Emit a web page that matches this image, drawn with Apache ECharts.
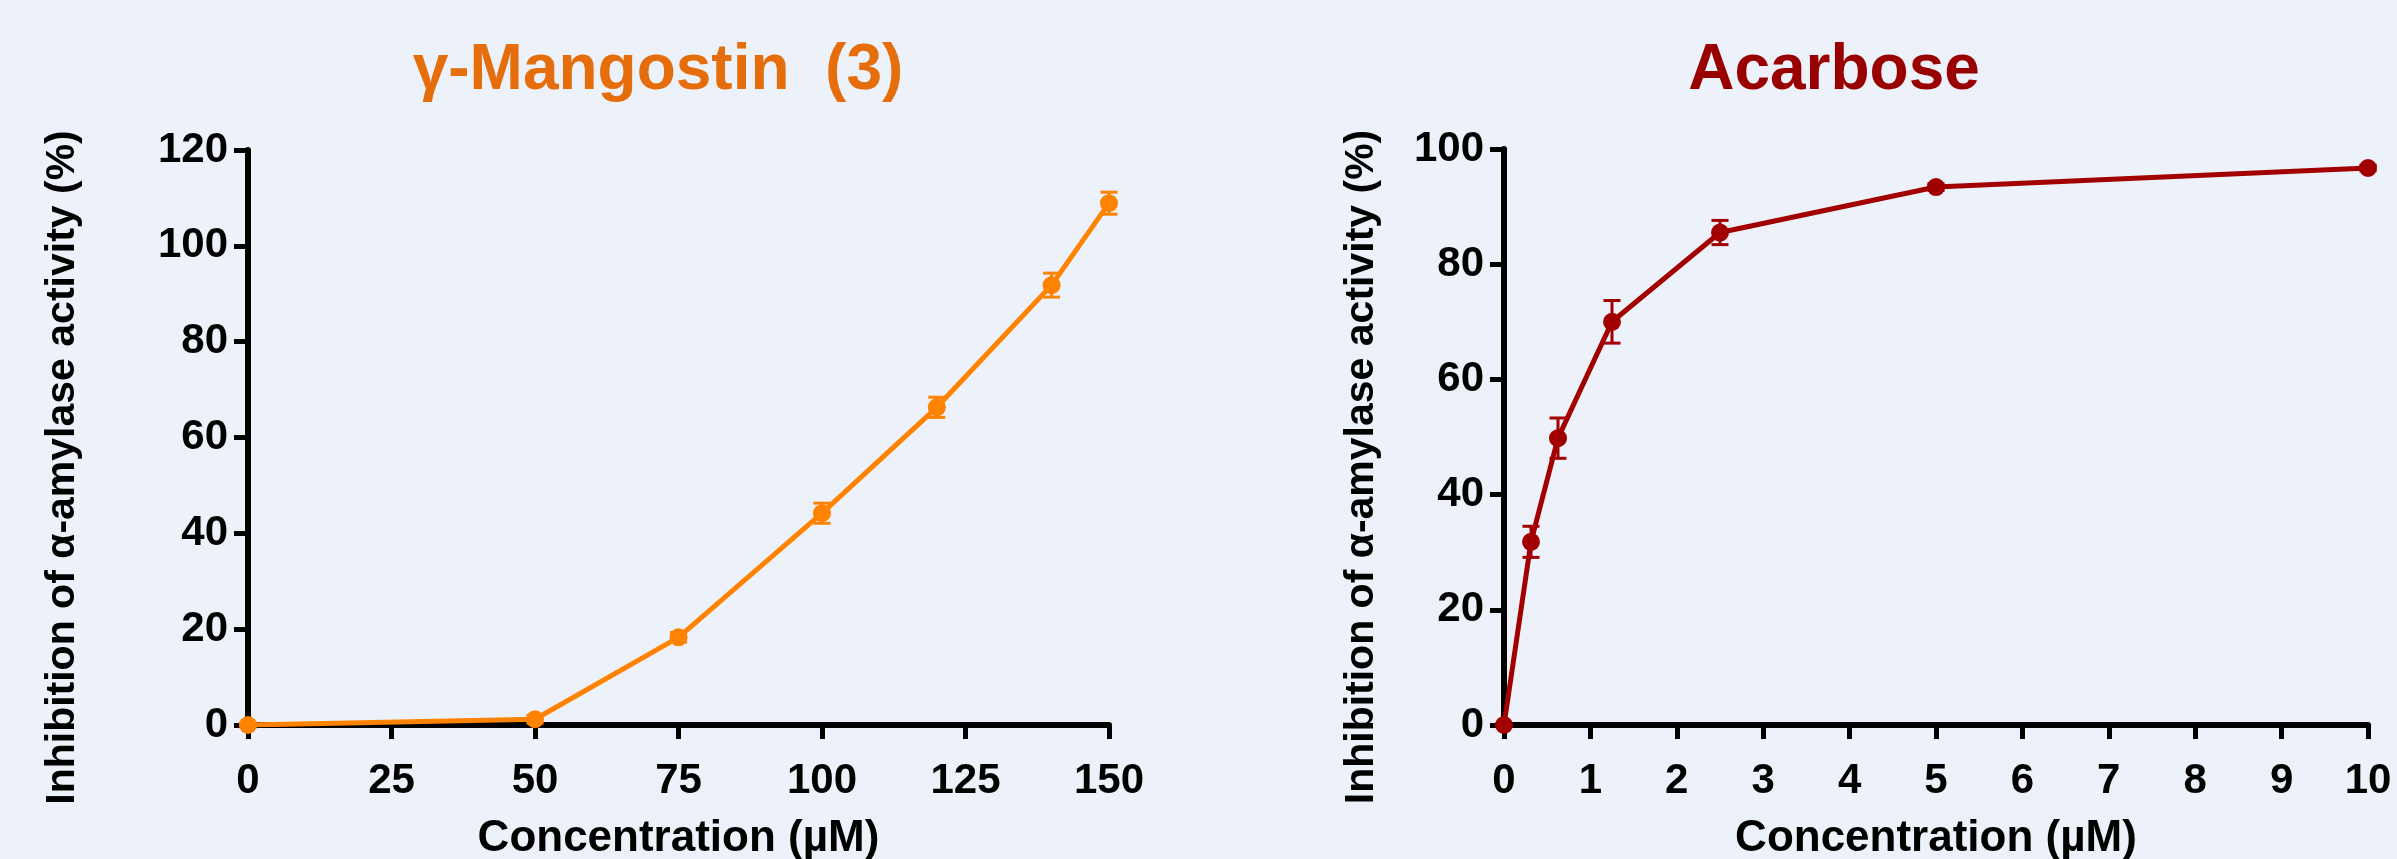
<!DOCTYPE html>
<html>
<head>
<meta charset="utf-8">
<script src="https://cdn.jsdelivr.net/npm/echarts@6/dist/echarts.min.js"></script>
<style>
  html, body { margin: 0; padding: 0; background: #EDF2FA; }
  #main { width: 2397px; height: 859px; }
</style>
</head>
<body>
<div id="main"></div>
<script>
// gamma-mangostin (3)
var mangConc = [0, 50, 75, 100, 120, 140, 150];
var mangInhib = [0, 1.2, 18.3, 44.2, 66.3, 91.8, 108.9];
var mangErr = [0.5, 0.8, 1.0, 2.1, 2.1, 2.5, 2.3];
var mangTicksX = { min: 0, max: 150, interval: 25 };
var mangTicksY = { min: 0, max: 120, interval: 20 };

// acarbose
var acarConc = [0, 0.3125, 0.625, 1.25, 2.5, 5, 10];
var acarInhib = [0, 31.8, 49.8, 70.0, 85.5, 93.4, 96.7];
var acarErr = [0, 2.7, 3.5, 3.7, 2.1, 0.6, 0.5];
var acarTicksX = { min: 0, max: 10, interval: 1 };
var acarTicksY = { min: 0, max: 100, interval: 20 };

var FONT = '"Liberation Sans", Arial, sans-serif';
var ORANGE = '#FF8200';
var DARKRED = '#A20000';

function pairs(xs, ys) {
    return xs.map(function(x, i) { return [x, ys[i]]; });
}
function triples(xs, ys, es) {
    return xs.map(function(x, i) { return [x, ys[i], es[i]]; });
}

// vertical error bar with caps, one per point
function errorBars(color) {
    return function(params, api) {
        var x = api.value(0), y = api.value(1), e = api.value(2);
        if (!e) return null;
        var hi = api.coord([x, y + e]);
        var lo = api.coord([x, y - e]);
        var w = 8.5;
        var st = { stroke: color, lineWidth: 3 };
        return {
            type: 'group',
            children: [
                { type: 'line', shape: { x1: hi[0], y1: hi[1], x2: lo[0], y2: lo[1] }, style: st },
                { type: 'line', shape: { x1: hi[0] - w, y1: hi[1], x2: hi[0] + w, y2: hi[1] }, style: st },
                { type: 'line', shape: { x1: lo[0] - w, y1: lo[1], x2: lo[0] + w, y2: lo[1] }, style: st }
            ]
        };
    };
}

function xAxisFor(idx, ticks) {
    return {
        type: 'value', gridIndex: idx,
        min: ticks.min, max: ticks.max, interval: ticks.interval,
        name: 'Concentration (µM)', nameLocation: 'middle', nameGap: 92,
        nameTextStyle: { color: '#000', fontFamily: FONT, fontWeight: 'bold', fontSize: 44 },
        axisLine: { show: true, onZero: false, lineStyle: { color: '#000', width: 6 } },
        axisTick: { show: true, length: 14, lineStyle: { color: '#000', width: 5 } },
        axisLabel: { color: '#000', fontFamily: FONT, fontWeight: 'bold', fontSize: 42, margin: 35 },
        splitLine: { show: false }
    };
}

function yAxisFor(idx, ticks, gap) {
    return {
        type: 'value', gridIndex: idx,
        min: ticks.min, max: ticks.max, interval: ticks.interval,
        name: 'Inhibition of α-amylase activity (%)', nameLocation: 'middle', nameGap: gap,
        nameTextStyle: { color: '#000', fontFamily: FONT, fontWeight: 'bold', fontSize: 41, padding: [0, 60, 0, 0] },
        axisLine: { show: true, lineStyle: { color: '#000', width: 6 } },
        axisTick: { show: true, length: 14, lineStyle: { color: '#000', width: 5 } },
        axisLabel: { color: '#000', fontFamily: FONT, fontWeight: 'bold', fontSize: 42, margin: 20 },
        splitLine: { show: false }
    };
}

var myChart = echarts.init(document.getElementById('main'));

var option = {
    backgroundColor: '#EDF2FA',
    animation: false,
    graphic: [
        { type: 'text', x: 658, y: 71,
          style: { text: 'γ-Mangostin  (3)', font: 'bold 64px ' + FONT, fill: '#E56D0B',
                   textAlign: 'center', textVerticalAlign: 'middle' } },
        { type: 'text', x: 1834, y: 71,
          style: { text: 'Acarbose', font: 'bold 64px ' + FONT, fill: '#990000',
                   textAlign: 'center', textVerticalAlign: 'middle' } }
    ],
    grid: [
        { left: 248, right: 1288, top: 150, bottom: 134, outerBoundsMode: 'none', containLabel: false },
        { left: 1504, right: 29, top: 149, bottom: 134, outerBoundsMode: 'none', containLabel: false }
    ],
    xAxis: [xAxisFor(0, mangTicksX), xAxisFor(1, acarTicksX)],
    yAxis: [yAxisFor(0, mangTicksY, 165), yAxisFor(1, acarTicksY, 122)],
    series: [
        {
            type: 'line', xAxisIndex: 0, yAxisIndex: 0, z: 4,
            data: pairs(mangConc, mangInhib),
            symbol: 'circle', symbolSize: 18,
            lineStyle: { color: ORANGE, width: 5 },
            itemStyle: { color: ORANGE }
        },
        {
            type: 'custom', xAxisIndex: 0, yAxisIndex: 0, z: 3,
            data: triples(mangConc, mangInhib, mangErr),
            renderItem: errorBars(ORANGE)
        },
        {
            type: 'line', xAxisIndex: 1, yAxisIndex: 1, z: 4,
            data: pairs(acarConc, acarInhib),
            symbol: 'circle', symbolSize: 18,
            lineStyle: { color: DARKRED, width: 5 },
            itemStyle: { color: DARKRED }
        },
        {
            type: 'custom', xAxisIndex: 1, yAxisIndex: 1, z: 3,
            data: triples(acarConc, acarInhib, acarErr),
            renderItem: errorBars(DARKRED)
        }
    ]
};

myChart.setOption(option);
</script>
</body>
</html>
